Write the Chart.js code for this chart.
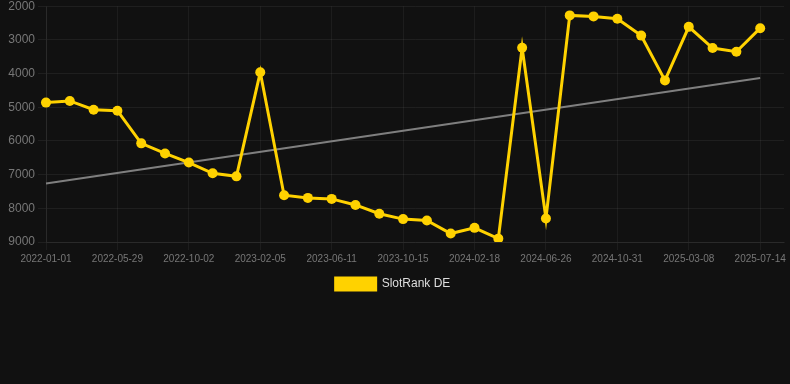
<!DOCTYPE html>
<html>
<head>
<meta charset="utf-8">
<script src="https://cdn.jsdelivr.net/npm/chart.js@4/dist/chart.umd.min.js"></script>
<style>
  body { margin: 0; background: #111111; }
  #wrap { width: 790px; height: 300px; position: relative; }
</style>
</head>
<body>
<div id="wrap"><canvas id="rank-chart"></canvas></div>
<script>
const dates = [
  "2022-01-01", "2022-02-19", "2022-04-09", "2022-05-29", "2022-07-10", "2022-08-21",
  "2022-10-02", "2022-11-13", "2022-12-25", "2023-02-05", "2023-03-19", "2023-04-30",
  "2023-06-11", "2023-07-23", "2023-09-03", "2023-10-15", "2023-11-26", "2024-01-07",
  "2024-02-18", "2024-03-31", "2024-05-12", "2024-06-26", "2024-08-07", "2024-09-18",
  "2024-10-31", "2024-12-12", "2025-01-23", "2025-03-08", "2025-04-19", "2025-05-31",
  "2025-07-14", "2025-08-25",
];
const rankDE = [
  4860, 4810, 5070, 5100, 6070, 6370, 6640, 6960, 7050, 3960,
  7610, 7690, 7720, 7900, 8160, 8320, 8360, 8750, 8580, 8900,
  3230, 8300, 2270, 2300, 2370, 2870, 4200, 2610, 3240, 3350,
  2650, null,
];
// trend line: only the two ends, joined across the gap
const trendStart = 7260;
const trendEnd = 4130;
const trend = dates.map((d, i) => (i === 0 ? trendStart : i === 30 ? trendEnd : null));
const yTicks = { min: 2000, max: 9000, step: 1000 };

document.addEventListener("DOMContentLoaded", () => {
  new Chart(document.getElementById("rank-chart"), {
    type: "line",
    data: {
      labels: dates,
      datasets: [
        {
          label: "SlotRank DE",
          data: rankDE,
          borderColor: "#FFD200",
          backgroundColor: "#FFD200",
          borderWidth: 3,
          pointRadius: 5,
          pointHoverRadius: 6,
          pointBackgroundColor: "#FFD200",
          pointBorderWidth: 0,
          tension: 0,
        },
        {
          label: "trend",
          data: trend,
          borderColor: "rgba(140, 140, 140, 0.9)",
          borderWidth: 2,
          pointRadius: 0,
          spanGaps: true,
        },
      ],
    },
    options: {
      responsive: true,
      maintainAspectRatio: false,
      animation: false,
      layout: { padding: { left: 0, right: 4 } },
      plugins: {
        legend: {
          position: "bottom",
          labels: {
            color: "#dddddd",
            font: { size: 12 },
            boxWidth: 40,
            filter: (item) => item.text !== "trend",
          },
        },
        tooltip: { enabled: false },
      },
      scales: {
        x: {
          grid: { color: "rgba(255, 255, 255, 0.05)" },
          border: { color: "rgba(255, 255, 255, 0.05)" },
          ticks: {
            color: "#777777",
            font: { size: 10 },
            maxRotation: 0,
            autoSkip: true,
            maxTicksLimit: 11,
          },
        },
        y: {
          reverse: true,
          min: yTicks.min,
          max: yTicks.max,
          afterFit: (scale) => { scale.width = 46; },
          grid: { color: "rgba(255, 255, 255, 0.06)" },
          border: { color: "rgba(255, 255, 255, 0.06)" },
          ticks: {
            color: "#777777",
            font: { size: 12, lineHeight: 0.55 },
            stepSize: yTicks.step,
            callback: (v) => String(v),
          },
        },
      },
    },
  });
});
</script>
</body>
</html>
